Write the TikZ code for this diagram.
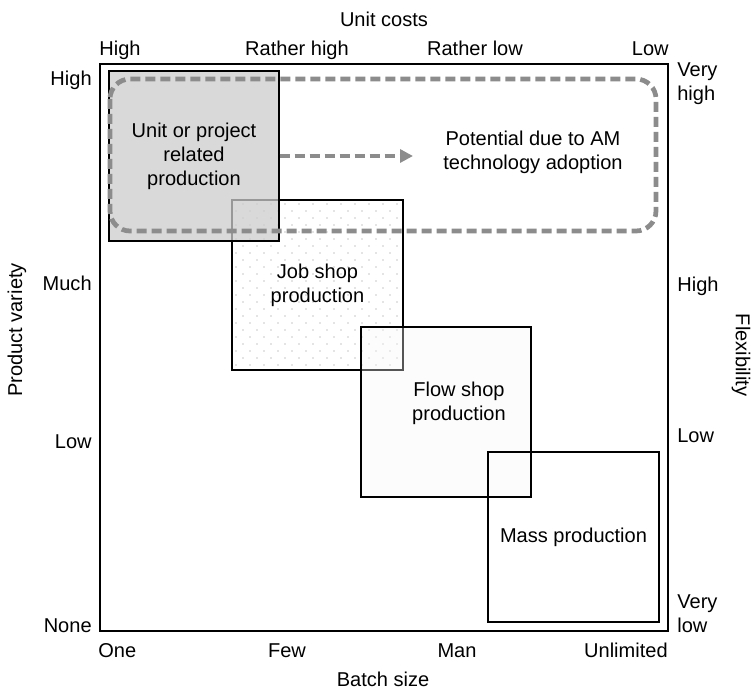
\documentclass[tikz,border=0pt]{standalone}
\usepackage{fontspec}
\setmainfont{Liberation Sans}
\usetikzlibrary{arrows.meta}
\definecolor{dashgray}{gray}{0.55}
\definecolor{unitgray}{gray}{0.80}
\definecolor{dotgray}{gray}{0.55}
\tikzset{
  lbl/.style={inner sep=0pt,font=\fontsize{11.4}{13.6}\selectfont},
  pbox/.style={draw=black,line width=0.8pt,minimum width=3.4cm,minimum height=3.4cm,inner sep=0pt,align=center,font=\fontsize{11.4}{13.6}\selectfont},
  potline/.style={draw=dashgray,line width=0.095cm,dash pattern=on 0.2cm off 0.1cm},
  frame/.style={draw=black,line width=1.2pt}
}
\begin{document}
\begin{tikzpicture}[x=0.02cm,y=-0.02cm]
\useasboundingbox (0,0) rectangle (754,689);
\foreach \yy [count=\k] in {204,211,...,368}
  {\pgfmathsetmacro\off{mod(\k,2)*7}
   \foreach \xx in {236,250,...,396} \fill[dotgray] (\xx+\off,\yy) circle (0.42pt);}
\node[pbox,minimum width=3.42cm] (job) at (317.5,285) {Job shop\\production};
\node[pbox,fill=unitgray,fill opacity=0.75,text opacity=1] (unit) at (194,156) {Unit or project\\related\\production};
\draw[potline,rounded corners=0.4cm] (110,79) rectangle (656,231);
\coordinate (aend) at (413,156);
\draw[potline,line width=0.08cm,-{Triangle[length=0.26cm,width=0.26cm]}] (unit.east) -- (aend);
\node[lbl,align=center] (pottxt) at (533,152) {Potential due to AM\\technology adoption};
\node[pbox,fill=gray!8,fill opacity=0.35] (flow) at (446,412) {};
\node[lbl,align=center] (flowtxt) at (459,403) {Flow shop\\production};
\node[pbox,minimum width=3.42cm] (mass) at (573.5,537) {Mass production};
\draw[frame] (100,64) rectangle (668,631);
\node[lbl,anchor=base] (ucost) at (384,27) {Unit costs};
\node[lbl,anchor=base west] (uc1) at (99,56) {High};
\node[lbl,anchor=base] (uc2) at (297,56) {Rather high};
\node[lbl,anchor=base] (uc3) at (475,56) {Rather low};
\node[lbl,anchor=base east] (uc4) at (669,56) {Low};
\node[lbl,anchor=base east] (pv1) at (92,86) {High};
\node[lbl,anchor=base east] (pv2) at (92,291) {Much};
\node[lbl,anchor=base east] (pv3) at (92,448) {Low};
\node[lbl,anchor=base east] (pv4) at (92,632) {None};
\node[lbl,rotate=90] (pvar) at (17,330) {Product variety};
\node[lbl,anchor=west,align=left] (fx1) at (677,84) {Very\\high};
\node[lbl,anchor=base west] (fx2) at (677,292) {High};
\node[lbl,anchor=base west] (fx3) at (677,442) {Low};
\node[lbl,anchor=west,align=left] (fx4) at (677,614) {Very\\low};
\node[lbl,rotate=-90] (flex) at (741,355) {Flexibility};
\node[lbl,anchor=base west] (bs1) at (98,657) {One};
\node[lbl,anchor=base] (bs2) at (287,657) {Few};
\node[lbl,anchor=base] (bs3) at (457,657) {Man};
\node[lbl,anchor=base east] (bs4) at (668,657) {Unlimited};
\node[lbl,anchor=base] (bsize) at (383,686) {Batch size};
\end{tikzpicture}
\end{document}
